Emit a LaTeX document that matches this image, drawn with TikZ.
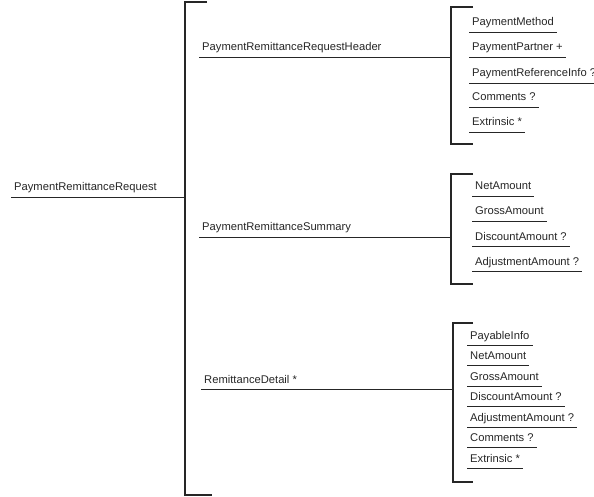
\documentclass[tikz,border=0pt]{standalone}
\usepackage{fontspec}
\setmainfont{Liberation Sans}
\begin{document}
\begin{tikzpicture}[x=1bp,y=-1bp,
  wire/.style={line width=1.1bp, draw=black!85},
  elem/.style={anchor=base west, inner xsep=3bp, inner ysep=0pt,
    text depth=6bp, text height=8bp,
    font=\fontsize{11.2bp}{13bp}\selectfont, text=black!85}]
\useasboundingbox (0,0) rectangle (594,497);

% root element
\node[elem] (root) at (11,191) {PaymentRemittanceRequest};

% main bracket
\coordinate (b0t) at (185,2);
\coordinate (b0b) at (185,495);
\draw[wire] (207,2) -- (b0t) -- (b0b) -- (212,495);
\draw[wire] (root.south west) -- (root.south west -| b0t);

% first-level elements
\node[elem] (hdr) at (199,51) {PaymentRemittanceRequestHeader};
\node[elem] (sum) at (199,231) {PaymentRemittanceSummary};
\node[elem] (det) at (201,383) {RemittanceDetail *};

% brackets of the first-level elements
\coordinate (b1t) at (451,7);   \coordinate (b1b) at (451,144);
\coordinate (b2t) at (451,174); \coordinate (b2b) at (451,284);
\coordinate (b3t) at (453,323); \coordinate (b3b) at (453,482);
\draw[wire] (473,7) -- (b1t) -- (b1b) -- (473,144);
\draw[wire] (473,174) -- (b2t) -- (b2b) -- (473,284);
\draw[wire] (473,323) -- (b3t) -- (b3b) -- (473,482);

\draw[wire] (hdr.south west) -- (hdr.south west -| b1t);
\draw[wire] (sum.south west) -- (sum.south west -| b2t);
\draw[wire] (det.south west) -- (det.south west -| b3t);

% children of the header
\foreach \y/\t [count=\i] in {26/PaymentMethod, 51/PaymentPartner +,
    77/PaymentReferenceInfo ?, 101/Comments ?, 126/Extrinsic *} {
  \node[elem] (h\i) at (469,\y) {\t};
  \draw[wire] (h\i.south west) -- (h\i.south east);
}

% children of the summary
\foreach \y/\t [count=\i] in {190/NetAmount, 215/GrossAmount,
    240/DiscountAmount ?, 265/AdjustmentAmount ?} {
  \node[elem] (s\i) at (472,\y) {\t};
  \draw[wire] (s\i.south west) -- (s\i.south east);
}

% children of the detail
\foreach \y/\t [count=\i] in {339/PayableInfo, 359.5/NetAmount,
    380/GrossAmount, 400.5/DiscountAmount ?, 421/AdjustmentAmount ?,
    441.5/Comments ?, 462/Extrinsic *} {
  \node[elem] (d\i) at (467,\y) {\t};
  \draw[wire] (d\i.south west) -- (d\i.south east);
}
\end{tikzpicture}
\end{document}
